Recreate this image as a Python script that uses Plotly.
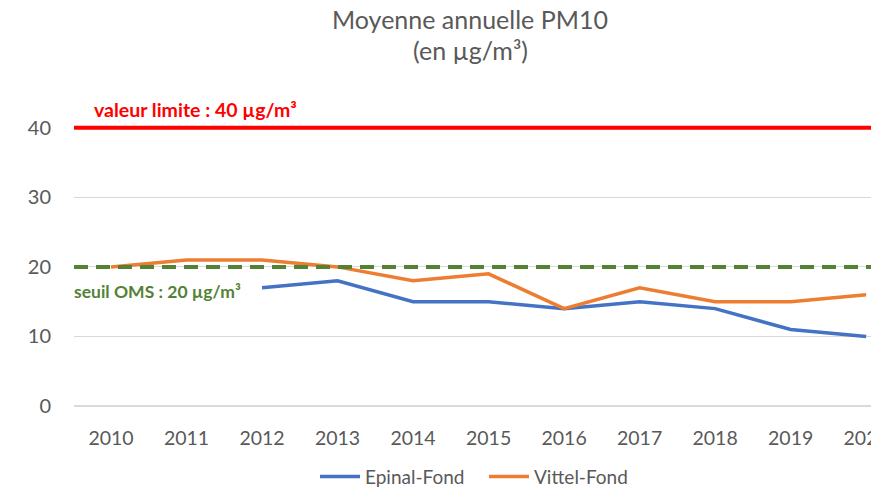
import plotly.graph_objects as go

years = ["2010", "2011", "2012", "2013", "2014", "2015", "2016", "2017", "2018", "2019", "2020"]
epinal = [None, None, 17, 18, 15, 15, 14, 15, 14, 11, 10]
vittel = [20, 21, 21, 20, 18, 19, 14, 17, 15, 15, 16]
limit_value = 40
oms_value = 20
y_ticks = [0, 10, 20, 30, 40]

FONT = "Lato, Carlito, Calibri, sans-serif"
GREY = "#595959"

fig = go.Figure()
fig.add_trace(go.Scatter(x=list(range(len(years))), y=epinal, name="Epinal-Fond", mode="lines",
                         line=dict(color="#4472C4", width=3.5), connectgaps=False))
fig.add_trace(go.Scatter(x=list(range(len(years))), y=vittel, name="Vittel-Fond", mode="lines",
                         line=dict(color="#ED7D31", width=3.5)))

fig.add_shape(type="line", xref="paper", yref="y", x0=0, x1=1, y0=limit_value, y1=limit_value,
              line=dict(color="#FF0000", width=4), layer="above")
fig.add_shape(type="line", xref="paper", yref="y", x0=0, x1=1, y0=oms_value, y1=oms_value,
              line=dict(color="#548235", width=4, dash="14px,8px"), layer="above")

fig.add_annotation(text="<b>valeur limite : 40 µg/m³</b>", xref="paper", yref="y", x=(92 - 74) / 805, y=limit_value,
                   xanchor="left", yanchor="middle", yshift=18, showarrow=False,
                   font=dict(family=FONT, size=19.5, color="#FF0000"))
fig.add_annotation(text="<b>seuil OMS : 20 µg/m³</b>", xref="paper", yref="y", x=(72 - 74) / 805, y=oms_value,
                   xanchor="left", yanchor="middle", yshift=-25, showarrow=False,
                   font=dict(family=FONT, size=17.5, color="#548235"))

fig.add_annotation(text="Moyenne annuelle PM10", xref="paper", yref="paper", x=(470 - 74) / 805, y=1,
                   xanchor="center", yanchor="middle", yshift=(93 - 19), showarrow=False,
                   font=dict(family=FONT, size=25, color=GREY))
fig.add_annotation(text="(en µg/m³)", xref="paper", yref="paper", x=(470 - 74) / 805, y=1,
                   xanchor="center", yanchor="middle", yshift=(93 - 50), showarrow=False,
                   font=dict(family=FONT, size=25, color=GREY))

fig.update_layout(
    width=879, height=489,
    margin=dict(l=66, r=8, t=85, b=91, autoexpand=False),
    paper_bgcolor="white", plot_bgcolor="white",
    font=dict(family=FONT, size=19, color=GREY),
    showlegend=True,
    legend=dict(orientation="h", x=(484 - 74) / 805, xanchor="center", y=-0.165, yanchor="top",
                font=dict(family=FONT, size=19, color=GREY), itemwidth=40, tracegroupgap=0,
                entrywidth=114),
)
fig.update_xaxes(tickmode="array", tickvals=list(range(len(years))), ticktext=years,
                 range=[-0.49, 10.17], showgrid=False, zeroline=False, showline=False,
                 ticks="", ticklabelstandoff=18, ticklabeloverflow="allow",
                 tickfont=dict(size=19.5, color=GREY))
fig.update_yaxes(range=[0, 45], tickvals=y_ticks, showgrid=True, gridcolor="#D9D9D9", gridwidth=1,
                 zeroline=True, zerolinecolor="#D9D9D9", zerolinewidth=1.5, showline=False,
                 ticks="", ticklabelstandoff=22, tickfont=dict(size=20, color=GREY))

fig.write_html("out.html")
